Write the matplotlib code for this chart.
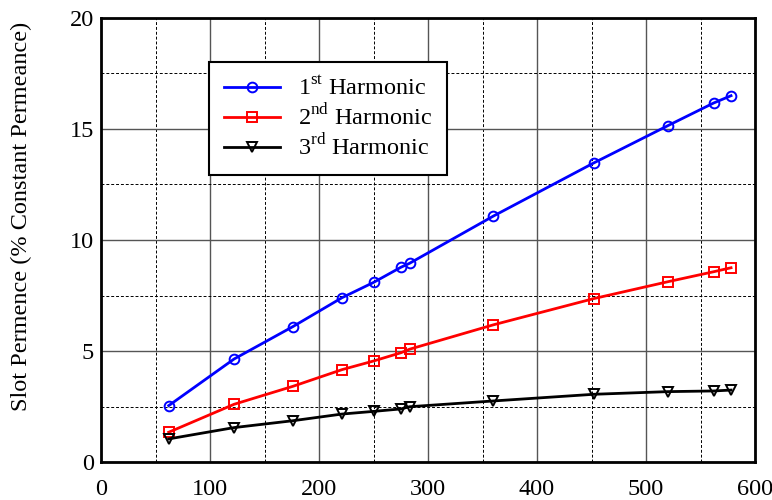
import numpy as np
import matplotlib.pyplot as plt
from matplotlib.ticker import MultipleLocator

plt.rcParams['font.family'] = ['Liberation Serif', 'DejaVu Serif']
plt.rcParams['mathtext.fontset'] = 'custom'
plt.rcParams['mathtext.rm'] = 'Liberation Serif'

# slot opening (x) and permeance harmonics (% of constant permeance)
x = [62, 122, 176, 221, 250, 275, 283, 360, 452, 520, 562, 578]
h1 = [2.54, 4.64, 6.1, 7.4, 8.09, 8.77, 8.95, 11.08, 13.47, 15.15, 16.17, 16.5]
h2 = [1.34, 2.6, 3.41, 4.16, 4.55, 4.92, 5.08, 6.18, 7.36, 8.12, 8.57, 8.75]
h3 = [1.04, 1.55, 1.86, 2.16, 2.28, 2.39, 2.49, 2.75, 3.05, 3.17, 3.2, 3.24]

fig = plt.figure(figsize=(7.72, 5.0), dpi=100)
ax = fig.add_axes([0.131, 0.076, 0.847, 0.888])

ax.plot(x, h1, '-o', color='b', lw=2, ms=7, mfc='none', mew=1.4, label=r'1$^{\rm st}$ Harmonic')
ax.plot(x, h2, '-s', color='r', lw=2, ms=7, mfc='none', mew=1.4, label=r'2$^{\rm nd}$ Harmonic')
ax.plot(x, h3, '-v', color='k', lw=2, ms=7, mfc='none', mew=1.4, label=r'3$^{\rm rd}$ Harmonic')

ax.set_xlim(0, 600)
ax.set_ylim(0, 20)
ax.xaxis.set_major_locator(MultipleLocator(100))
ax.xaxis.set_minor_locator(MultipleLocator(50))
ax.yaxis.set_major_locator(MultipleLocator(5))
ax.yaxis.set_minor_locator(MultipleLocator(2.5))
ax.grid(True, which='major', color='#555555', lw=1.0, ls='-')
ax.grid(True, which='minor', color='k', lw=0.7, ls=(0, (3, 2)))
ax.set_axisbelow(True)
ax.tick_params(which='both', direction='in', length=0, labelsize=17.5)
ax.tick_params(axis='x', pad=12)
ax.tick_params(axis='y', pad=5)
for s in ax.spines.values():
    s.set_linewidth(2)

ax.set_ylabel('Slot Permence (% Constant Permeance)', fontsize=17.5)
ax.yaxis.set_label_coords(-0.106, 0.554)

leg = ax.legend(loc='upper left', bbox_to_anchor=(0.165, 0.901), borderaxespad=0,
                fontsize=17.5, fancybox=False, framealpha=1, edgecolor='k',
                handlelength=2.3, handletextpad=0.75, labelspacing=0.15, borderpad=0.6)
leg.get_frame().set_linewidth(1.5)

fig.savefig('out.png', dpi=100)
